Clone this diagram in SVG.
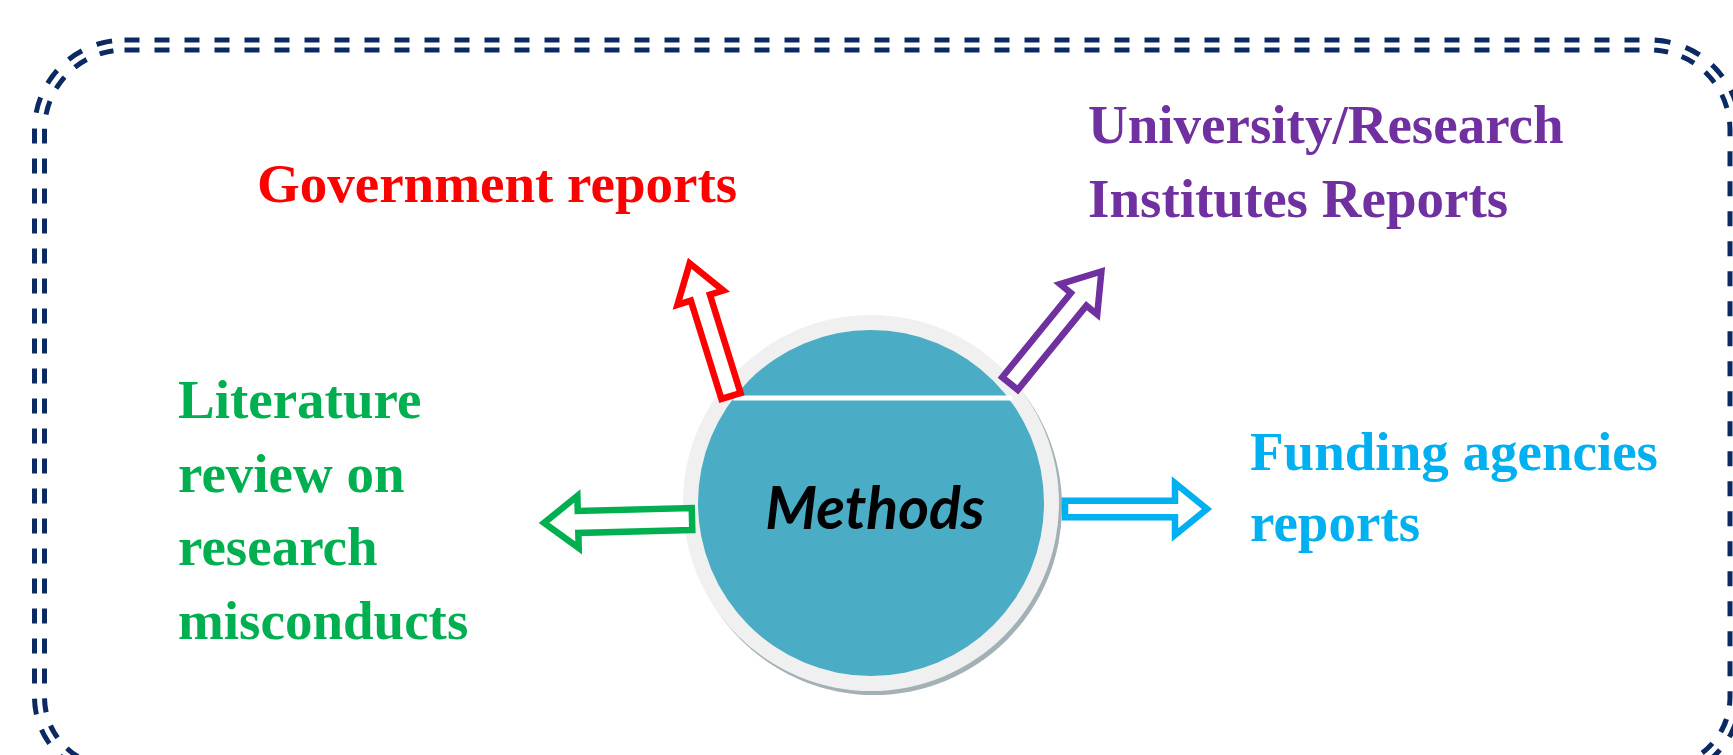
<svg xmlns="http://www.w3.org/2000/svg" width="1733" height="755" viewBox="0 0 1733 755">
<style>
.lbl{font-family:"Liberation Serif","Times New Roman",serif;font-weight:bold;font-size:55px}
.arr{fill:#fff;stroke-width:6.5;stroke-linejoin:miter;stroke-miterlimit:10}
.frame{fill:none;stroke:#0B2A63;stroke-width:15;stroke-dasharray:15 15}
.frame-gap{fill:none;stroke:#fff;stroke-width:5}
</style>
<rect width="1733" height="755" fill="#fff"/>
<g id="frame">
<path class="frame" d="M124.5,45 H1650 A85,85 0 0 1 1735,130 V697 A75,75 0 0 1 1660,772 H114.5 A75,75 0 0 1 39.5,697 V130 A85,85 0 0 1 124.5,45 Z"/>
<path class="frame-gap" d="M124.5,45 H1650 A85,85 0 0 1 1735,130 V697 A75,75 0 0 1 1660,772 H114.5 A75,75 0 0 1 39.5,697 V130 A85,85 0 0 1 124.5,45 Z"/>
</g>
<g id="methods">
<circle cx="874" cy="507" r="188" fill="#A3B0B6"/>
<circle cx="871" cy="503" r="188" fill="#F0F0F0"/>
<circle cx="871" cy="503" r="173" fill="#4BACC6"/>
<line x1="733" y1="398" x2="1012" y2="398" stroke="#fff" stroke-width="5"/>
<text x="875" y="529" text-anchor="middle" font-family="Lato,'Open Sans',sans-serif" font-weight="bold" font-style="italic" font-size="59" fill="#000">Methods</text>
</g>
<g id="connectors">
<polygon class="arr" stroke="#FF0000" transform="translate(731,396) rotate(-107.3)" points="0,-10 103,-10 103,-24 139,0 103,24 103,10 0,10"/>
<polygon class="arr" stroke="#7030A0" transform="translate(1010,383.5) rotate(-50.8)" points="0,-10 108.6,-10 108.6,-24 144.6,0 108.6,24 108.6,10 0,10"/>
<polygon class="arr" stroke="#00B050" transform="translate(692,519) rotate(178.5)" points="0,-11 114,-11 114,-26 148,0 114,26 114,11 0,11"/>
<polygon class="arr" stroke="#00B0F0" transform="translate(1065,509)" points="0,-8.25 110,-8.25 110,-26 142,0 110,26 110,8.25 0,8.25"/>
</g>
<g id="government">
<text class="lbl" x="257" y="202" fill="#FF0000">Government reports</text>
</g>
<g id="university">
<text class="lbl" x="1088" y="143" fill="#7030A0">University/Research</text>
<text class="lbl" x="1088" y="217" fill="#7030A0">Institutes Reports</text>
</g>
<g id="literature">
<text class="lbl" x="178" y="418" fill="#00B050">Literature</text>
<text class="lbl" x="178" y="491.5" fill="#00B050">review on</text>
<text class="lbl" x="178" y="565" fill="#00B050">research</text>
<text class="lbl" x="178" y="638.5" fill="#00B050">misconducts</text>
</g>
<g id="funding">
<text class="lbl" x="1250" y="470" fill="#00B0F0">Funding agencies</text>
<text class="lbl" x="1250" y="541" fill="#00B0F0">reports</text>
</g>
</svg>
